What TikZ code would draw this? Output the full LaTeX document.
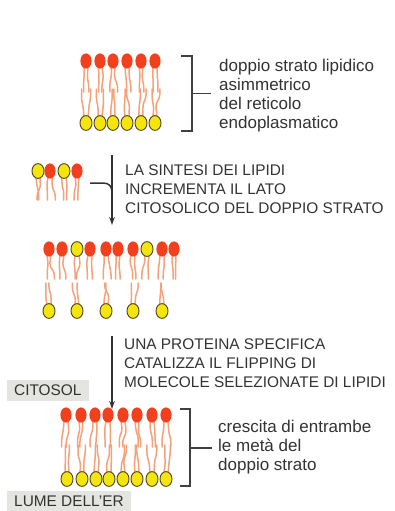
\documentclass[tikz,border=0pt]{standalone}
\usepackage{fontspec}
\setmainfont{Liberation Sans}
\usetikzlibrary{arrows.meta}

\definecolor{headred}{HTML}{F2401E}
\definecolor{headyel}{HTML}{F4E60C}
\definecolor{yelrim}{HTML}{4A3E1E}
\definecolor{tailc}{HTML}{F5A27A}
\definecolor{inkc}{HTML}{333333}
\definecolor{linec}{HTML}{404040}
\definecolor{labelbg}{HTML}{E4E4E0}

\tikzset{
  tail/.style={draw=tailc, line width=1.5pt, rounded corners=3pt, line cap=round},
  yelhead/.style={fill=headyel, draw=yelrim, line width=0.9pt},
  capstext/.style={font=\fontsize{15.4}{19}\selectfont, text=inkc, align=left, inner sep=0pt, anchor=base west},
  smalltext/.style={font=\fontsize{17}{18.8}\selectfont, text=inkc, align=left, inner sep=0pt, anchor=base west},
  tag/.style={font=\fontsize{15.4}{19}\selectfont, text=inkc, fill=labelbg, inner xsep=7pt, inner ysep=0pt,
              minimum height=21pt, anchor=west},
  flow/.style={draw=inkc, line width=1.5pt, -{Stealth[length=8pt,width=5.5pt]}},
  hookline/.style={draw=inkc, line width=1.5pt},
  brk/.style={draw=linec, line width=1.1pt},
}

% two fatty-acid tails hanging from a head: x, start y, signed length
\newcommand\tails[3]{%
  \pgfmathsetmacro\ta{3.4*rand}%
  \pgfmathsetmacro\tb{3.4*rand}%
  \pgfmathsetmacro\tc{1.5*rand}%
  \pgfmathsetmacro\td{1.5*rand}%
  \pgfmathsetmacro\la{#1-2}%
  \pgfmathsetmacro\lb{#1+2}%
  \pgfmathsetmacro\ya{#2+0.35*(#3)}%
  \pgfmathsetmacro\yb{#2+0.45*(#3)}%
  \pgfmathsetmacro\yc{#2+0.62*(#3)}%
  \pgfmathsetmacro\yd{#2+0.72*(#3)}%
  \pgfmathsetmacro\ye{#2+(#3)}%
  \draw[tail] (\la,#2) -- ({\la+\tc},\ya) -- ({\la+\ta},\yc) -- ({\la+\ta},\ye);
  \draw[tail] (\lb,#2) -- ({\lb+\td},\yb) -- ({\lb+\tb},\yd) -- ({\lb+\tb},\ye);
}
\newcommand\rhead[2]{\fill[headred] (#1,#2) ellipse [x radius=5.6, y radius=7.6];}
\newcommand\yhead[2]{\filldraw[yelhead] (#1,#2) ellipse [x radius=6, y radius=7.4];}

\begin{document}
\begin{tikzpicture}[x=1pt, y=-1pt]
\pgfmathsetseed{7}
\useasboundingbox (0,0) rectangle (394,511);
\fill[white] (0,0) rectangle (394,511);

% ---- asymmetric ER bilayer ----
\foreach \x in {86,100,113,127,141,155} {\tails{\x}{66}{26}}
\foreach \x in {86,100,113,127,141,155} {\tails{\x}{117}{-28}}
\foreach \x in {86,100,113,127,141,155} {\rhead{\x}{61}}
\foreach \x in {86,100,113,127,141,155} {\yhead{\x}{123}}

\draw[brk] (181,56) -- (192,56) -- (192,131) -- (181,131);
\draw[brk] (192,93.5) -- (211,93.5);
\node[smalltext] (t1) at (219,128) {doppio strato lipidico\\asimmetrico\\del reticolo\\endoplasmatico};

% ---- newly synthesised lipids ----
\foreach \x in {38,50,64,77} {\tails{\x}{177}{23}}
\yhead{38}{171} \rhead{50}{171} \yhead{64}{171} \rhead{77}{171}

\coordinate (hk) at (90,183);
\coordinate (s1) at (112,155);
\coordinate (e1) at (112,225);
\draw[hookline] (hk) -- (103,183) .. controls (109,183) and (112,186) .. (112,193);
\draw[flow] (s1) -- (e1);
\node[capstext] (t2) at (125,213) {LA SINTESI DEI LIPIDI\\INCREMENTA IL LATO\\CITOSOLICO DEL DOPPIO STRATO};

% ---- bilayer after synthesis ----
\foreach \x in {49,62,77,90,106,118,133,147,162,174} {\tails{\x}{255}{24}}
\foreach \x in {49,77,106,133,162} {\tails{\x}{305}{-22}}
\foreach \x in {49,62,90,106,118,133,162,174} {\rhead{\x}{249}}
\foreach \x in {77,147} {\yhead{\x}{249}}
\foreach \x in {49,77,106,133,162} {\yhead{\x}{311}}

\coordinate (s2) at (112,336);
\coordinate (e2) at (112,409);
\draw[flow] (s2) -- (e2);
\node[capstext] (t3) at (124,387) {UNA PROTEINA SPECIFICA\\CATALIZZA IL FLIPPING DI\\MOLECOLE SELEZIONATE DI LIPIDI};

\node[tag] (cyt) at (7,390.5) {CITOSOL};

% ---- grown bilayer ----
\foreach \x in {66,81,95,108,123,137,152,166} {\tails{\x}{421}{26}}
\foreach \x in {67,82,96,109,123,137,152,166} {\tails{\x}{473}{-28}}
\foreach \x in {66,81,95,108,123,137,152,166} {\rhead{\x}{415}}
\foreach \x in {67,82,96,109,123,137,152,166} {\yhead{\x}{479}}

\draw[brk] (180,409) -- (190,409) -- (190,486) -- (180,486);
\draw[brk] (190,448) -- (212,448);
\node[smalltext] (t4) at (218,470.5) {crescita di entrambe\\le metà del\\doppio strato};

\node[tag] (lum) at (7,501) {LUME DELL’ER};
\end{tikzpicture}
\end{document}
